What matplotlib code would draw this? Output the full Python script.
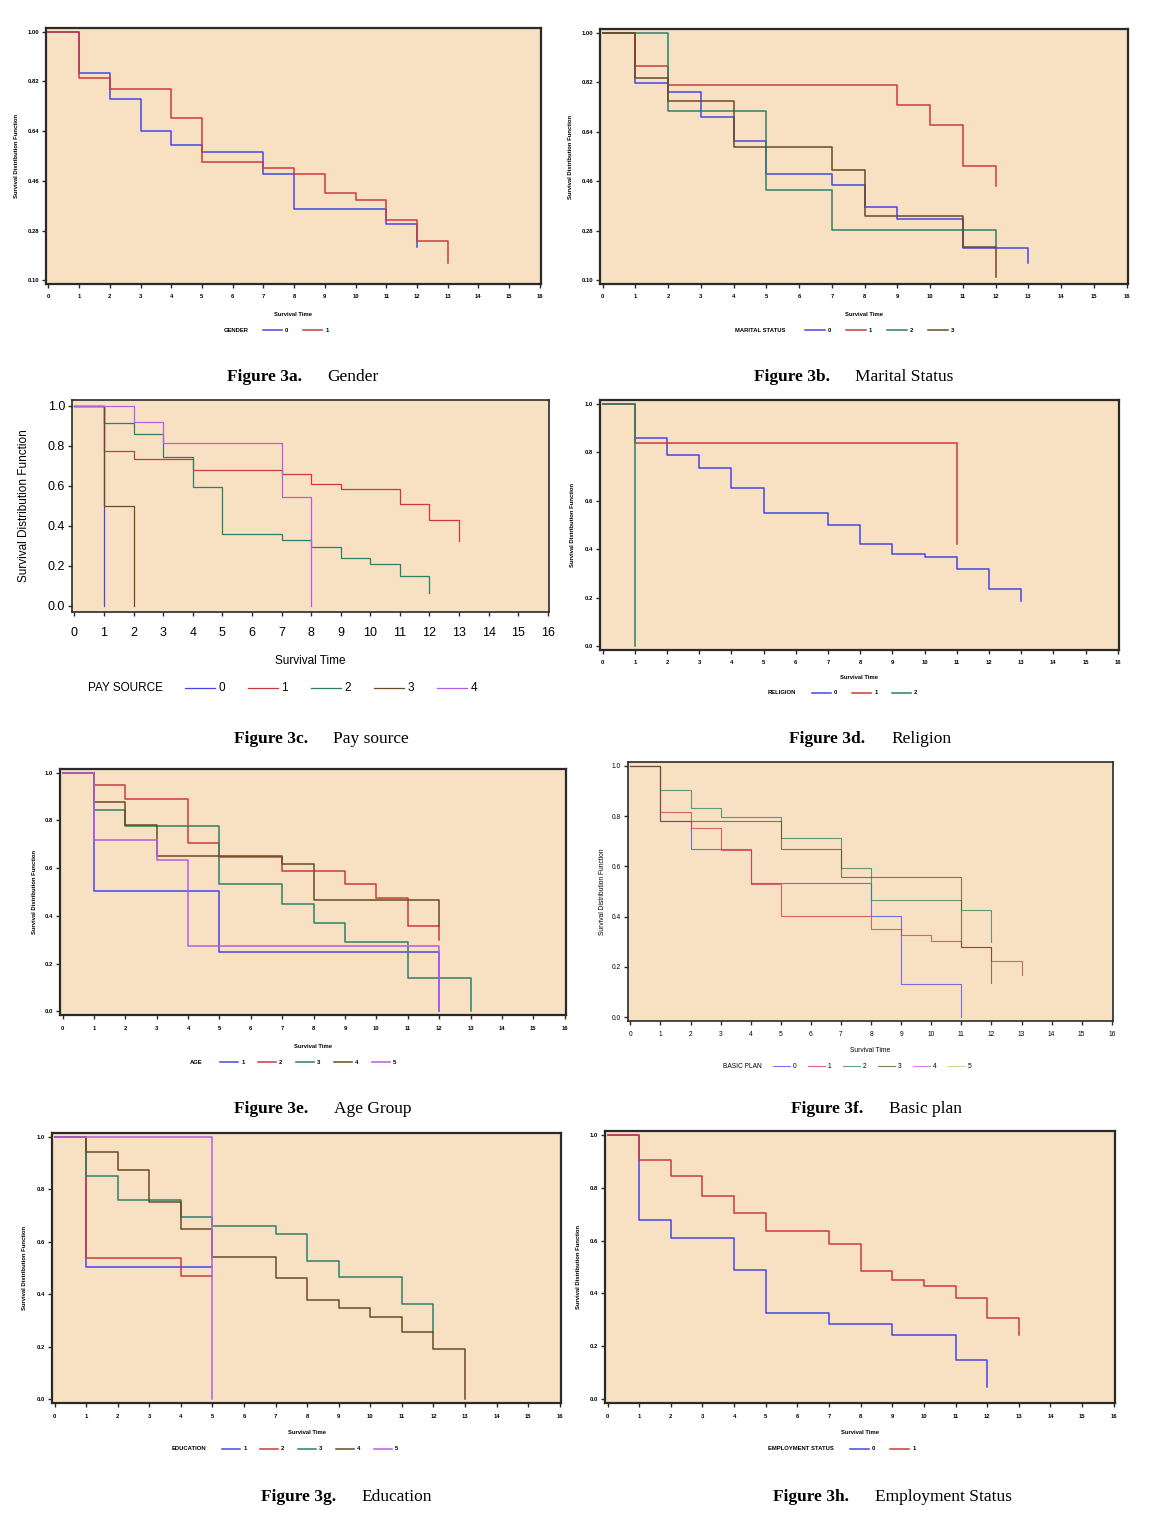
import matplotlib
matplotlib.use('Agg')
import matplotlib.pyplot as plt
from matplotlib.lines import Line2D

W, H = 1154, 1516
BG = '#f8e1c3'
BLUE, RED, GREEN, BROWN, PURPLE, OLIVE = ('#4646e6', '#cc3b3b', '#2e7f69',
                                          '#6b4a22', '#b45ee6', '#c8c86a')

# ---- data: Kaplan-Meier step curves (event times, survival after event) ----
gender_labels = ['0', '1']
gender_t = [[0, 1, 2, 3, 4, 5, 7, 8, 11, 12],
            [0, 1, 2, 4, 5, 7, 8, 9, 10, 11, 12, 13]]
gender_s = [[1.0, 0.851, 0.758, 0.640, 0.591, 0.565, 0.485, 0.357, 0.305, 0.219],
            [1.0, 0.833, 0.794, 0.689, 0.529, 0.508, 0.485, 0.415, 0.392, 0.318,
             0.244, 0.162]]

marital_labels = ['0', '1', '2', '3']
marital_t = [[0, 1, 2, 3, 4, 5, 7, 8, 9, 11, 13],
             [0, 1, 2, 9, 10, 11, 12],
             [0, 2, 5, 7, 12],
             [0, 1, 2, 4, 7, 8, 11, 12]]
marital_s = [[1.0, 0.817, 0.786, 0.694, 0.606, 0.487, 0.447, 0.368, 0.324, 0.219, 0.162],
             [1.0, 0.879, 0.809, 0.738, 0.663, 0.514, 0.441],
             [1.0, 0.716, 0.429, 0.284, 0.222],
             [1.0, 0.834, 0.751, 0.583, 0.500, 0.332, 0.222, 0.112]]

pay_labels = ['0', '1', '2', '3', '4']
pay_t = [[0, 1],
         [0, 1, 2, 4, 7, 8, 9, 11, 12, 13],
         [0, 1, 2, 3, 4, 5, 7, 8, 9, 10, 11, 12],
         [0, 1, 2],
         [0, 2, 3, 7, 8]]
pay_s = [[1.0, 0.0],
         [1.0, 0.774, 0.733, 0.681, 0.658, 0.610, 0.583, 0.508, 0.429, 0.324],
         [1.0, 0.914, 0.859, 0.744, 0.595, 0.359, 0.329, 0.297, 0.241, 0.209, 0.150, 0.063],
         [1.0, 0.5, 0.0],
         [1.0, 0.919, 0.816, 0.543, 0.0]]

religion_labels = ['0', '1', '2']
religion_t = [[0, 1, 2, 3, 4, 5, 7, 8, 9, 10, 11, 12, 13],
              [0, 1, 11],
              [0, 1]]
religion_s = [[1.0, 0.860, 0.790, 0.734, 0.651, 0.549, 0.500, 0.422, 0.382, 0.368,
               0.319, 0.237, 0.186],
              [1.0, 0.836, 0.421],
              [1.0, 0.0]]

age_labels = ['1', '2', '3', '4', '5']
age_t = [[0, 1, 5, 12],
         [0, 1, 2, 4, 5, 7, 9, 10, 11, 12],
         [0, 1, 2, 5, 7, 8, 9, 11, 13],
         [0, 1, 2, 3, 7, 8, 12],
         [0, 1, 3, 4, 12]]
age_s = [[1.0, 0.503, 0.249, 0.0],
         [1.0, 0.947, 0.888, 0.707, 0.648, 0.590, 0.532, 0.474, 0.356, 0.299],
         [1.0, 0.844, 0.777, 0.533, 0.449, 0.371, 0.289, 0.142, 0.0],
         [1.0, 0.878, 0.782, 0.651, 0.616, 0.468, 0.356],
         [1.0, 0.718, 0.634, 0.274, 0.0]]

plan_labels = ['0', '1', '2', '3', '4', '5']
plan_t = [[0, 1, 2, 4, 8, 9, 11],
          [0, 1, 2, 3, 4, 5, 8, 9, 10, 11, 12, 13],
          [0, 1, 2, 3, 5, 7, 8, 11, 12],
          [0, 1, 5, 7, 11, 12],
          [],
          []]
plan_s = [[1.0, 0.781, 0.668, 0.535, 0.401, 0.133, 0.0],
          [1.0, 0.816, 0.753, 0.664, 0.528, 0.402, 0.352, 0.326, 0.302, 0.280, 0.223, 0.166],
          [1.0, 0.905, 0.833, 0.796, 0.714, 0.595, 0.468, 0.427, 0.298],
          [1.0, 0.781, 0.668, 0.556, 0.280, 0.138],
          [],
          []]

edu_labels = ['1', '2', '3', '4', '5']
edu_t = [[0, 1, 5],
         [0, 1, 4, 5],
         [0, 1, 2, 4, 5, 7, 8, 9, 11, 12],
         [0, 1, 2, 3, 4, 5, 7, 8, 9, 10, 11, 12, 13],
         [0, 5]]
edu_s = [[1.0, 0.503, 0.503],
         [1.0, 0.538, 0.468, 0.468],
         [1.0, 0.850, 0.761, 0.693, 0.660, 0.630, 0.528, 0.465, 0.362, 0.255],
         [1.0, 0.942, 0.874, 0.751, 0.649, 0.542, 0.460, 0.378, 0.348, 0.314, 0.255,
          0.192, 0.0],
         [1.0, 0.0]]

emp_labels = ['0', '1']
emp_t = [[0, 1, 2, 4, 5, 7, 9, 11, 12],
         [0, 1, 2, 3, 4, 5, 7, 8, 9, 10, 11, 12, 13]]
emp_s = [[1.0, 0.678, 0.609, 0.488, 0.327, 0.283, 0.243, 0.146, 0.047],
         [1.0, 0.904, 0.845, 0.767, 0.703, 0.635, 0.587, 0.484, 0.450, 0.429, 0.381,
          0.307, 0.241]]

y_wide = [0.10, 0.28, 0.46, 0.64, 0.82, 1.00]
y_wide_lbl = ['0.10', '0.28', '0.46', '0.64', '0.82', '1.00']
y_unit = [0.0, 0.2, 0.4, 0.6, 0.8, 1.0]
y_unit_lbl = ['0.0', '0.2', '0.4', '0.6', '0.8', '1.0']

SANS = ['Liberation Sans', 'DejaVu Sans']
SMALL = dict(tick=4.2, lab=4.2, weight='bold', lw=1.1, spine=1.6, pad=0.015)
LARGE = dict(tick=9.0, lab=8.5, weight='normal', lw=0.9, spine=1.2, pad=0.03)
THIN = dict(tick=4.8, lab=4.8, weight='normal', lw=0.8, spine=1.2, pad=0.015)

fig = plt.figure(figsize=(W / 100, H / 100), dpi=100)


def px_rect(l, t, r, b):
    return [l / W, 1 - b / H, (r - l) / W, (b - t) / H]


def panel(rect, times, survs, labels, colors, title, style, yt, ytl,
          ylab_x, tick_y, xlab_y, leg_y, leg_title_x, leg_x, spacing,
          cap_y, cap_x, name_x, caption, name, alpha=1.0):
    l, t, r, b = rect
    ax = fig.add_axes(px_rect(l, t, r, b))
    ax.set_facecolor(BG)
    for tt, ss, c in zip(times, survs, colors):
        if len(tt):
            ax.step(tt, ss, where='post', color=c, lw=style['lw'], alpha=alpha)
    pad = (yt[-1] - yt[0]) * style['pad']
    ax.set_ylim(yt[0] - pad, yt[-1] + pad)
    ax.set_xlim(-0.08, 16.04)
    ax.set_xticks(range(17))
    ax.set_yticks(yt)
    ax.set_yticklabels(ytl)
    ax.set_xticklabels([])
    for sp in ax.spines.values():
        sp.set_linewidth(style['spine'])
        sp.set_color('#2a2a2a')
    ax.tick_params(direction='out', length=3, width=1, color='#2a2a2a',
                   labelsize=style['tick'], pad=2)
    for lb in ax.get_yticklabels():
        lb.set_fontweight(style['weight'])
        lb.set_family(SANS)
    # x tick labels placed under the axis
    for k in range(17):
        xf = (l + (k + 0.08) / 16.12 * (r - l)) / W
        fig.text(xf, 1 - tick_y / H, str(k), ha='center', va='center',
                 fontsize=style['tick'], fontweight=style['weight'], family=SANS)
    fig.text((l + r) / 2 / W, 1 - xlab_y / H, 'Survival Time', ha='center',
             va='center', fontsize=style['lab'], fontweight=style['weight'],
             family=SANS)
    fig.text(ylab_x / W, 1 - (t + b) / 2 / H, 'Survival Distribution Function',
             rotation=90, ha='center', va='center', fontsize=style['lab'],
             fontweight=style['weight'], family=SANS)
    # legend row
    fig.text(leg_title_x / W, 1 - leg_y / H, title, ha='left', va='center',
             fontsize=style['lab'], fontweight=style['weight'], family=SANS)
    for k, (lbl, c) in enumerate(zip(labels, colors)):
        x0 = leg_x + k * spacing
        seg = spacing * 0.48
        fig.add_artist(Line2D([x0 / W, (x0 + seg) / W], [1 - leg_y / H] * 2,
                              color=c, lw=style['lw'], alpha=alpha))
        fig.text((x0 + seg + 3) / W, 1 - leg_y / H, lbl, ha='left', va='center',
                 fontsize=style['lab'], fontweight=style['weight'], family=SANS)
    # caption
    fig.text(cap_x / W, 1 - cap_y / H, caption, ha='left', va='center',
             fontsize=12.5, fontweight='bold', family='Liberation Serif')
    fig.text(name_x / W, 1 - cap_y / H, name, ha='left', va='center',
             fontsize=12.5, family='Liberation Serif')
    return ax


panel((46, 28, 541, 284), gender_t, gender_s, gender_labels, [BLUE, RED],
      'GENDER', SMALL, y_wide, y_wide_lbl, 17, 297, 314, 330, 224, 263, 40,
      377, 227, 327, 'Figure 3a.', 'Gender')

panel((600, 29, 1128, 284), marital_t, marital_s, marital_labels,
      [BLUE, RED, GREEN, BROWN], 'MARITAL STATUS', SMALL, y_wide, y_wide_lbl,
      570, 297, 314, 330, 735, 805, 41,
      377, 754, 855, 'Figure 3b.', 'Marital Status')

panel((72, 400, 549, 612), pay_t, pay_s, pay_labels,
      [BLUE, RED, GREEN, BROWN, PURPLE], 'PAY SOURCE', LARGE, y_unit, y_unit_lbl,
      24, 633, 661, 688, 88, 185, 63,
      739, 234, 333, 'Figure 3c.', 'Pay source')

panel((600, 400, 1119, 650), religion_t, religion_s, religion_labels,
      [BLUE, RED, GREEN], 'RELIGION', SMALL, y_unit, y_unit_lbl,
      573, 662, 678, 693, 768, 812, 40,
      739, 789, 891, 'Figure 3d.', 'Religion')

panel((60, 769, 566, 1015), age_t, age_s, age_labels,
      [BLUE, RED, GREEN, BROWN, PURPLE], 'AGE', SMALL, y_unit, y_unit_lbl,
      35, 1029, 1047, 1062, 190, 220, 38,
      1109, 234, 334, 'Figure 3e.', 'Age Group')

panel((628, 762, 1113, 1021), plan_t, plan_s, plan_labels,
      [BLUE, RED, GREEN, BROWN, PURPLE, OLIVE], 'BASIC PLAN', THIN, y_unit,
      y_unit_lbl, 602, 1034, 1050, 1066, 723, 773, 35,
      1109, 791, 889, 'Figure 3f.', 'Basic plan', alpha=0.75)

panel((52, 1133, 561, 1403), edu_t, edu_s, edu_labels,
      [BLUE, RED, GREEN, BROWN, PURPLE], 'EDUCATION', SMALL, y_unit, y_unit_lbl,
      25, 1416, 1433, 1449, 172, 222, 38,
      1497, 261, 361, 'Figure 3g.', 'Education')

panel((605, 1131, 1115, 1403), emp_t, emp_s, emp_labels, [BLUE, RED],
      'EMPLOYMENT STATUS', SMALL, y_unit, y_unit_lbl,
      578, 1416, 1433, 1449, 768, 850, 40,
      1497, 773, 875, 'Figure 3h.', 'Employment Status')

fig.savefig('out.png', dpi=100, facecolor='white')
